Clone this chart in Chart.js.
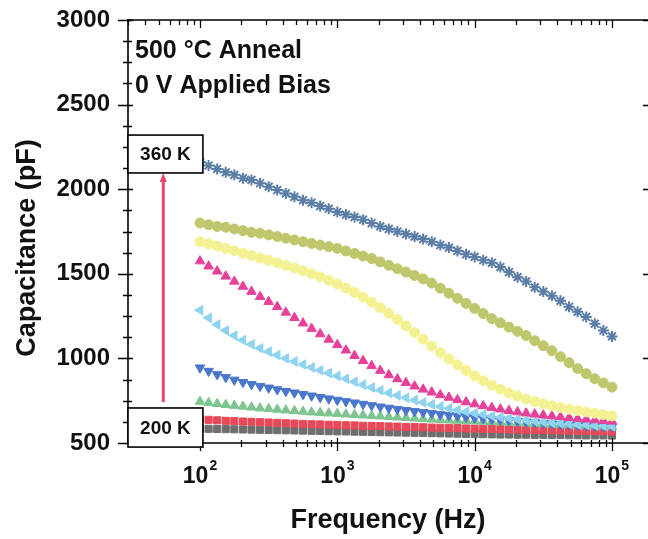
<!DOCTYPE html>
<html><head><meta charset="utf-8">
<script src="https://cdn.jsdelivr.net/npm/chart.js@4/dist/chart.umd.min.js"></script>
<style>html,body{margin:0;padding:0;background:#fff;}#wrap{width:648px;height:539px;position:relative;}</style>
</head><body><div id="wrap"><canvas id="c" width="648" height="539"></canvas></div>
<script>
// Measurement frequencies (Hz)
const frequencies = [100,115.5,133.4,154,177.8,205.4,237.1,273.8,316.2,365.2,421.7,487,562.3,649.4,749.9,866,
  1000,1155,1334,1540,1778,2054,2371,2738,3162,3652,4217,4870,5623,6494,7499,8660,
  10000,11548,13335,15399,17783,20535,23714,27384,31623,36517,42170,48697,56234,64938,74989,86596,100000];

// Capacitance (pF) per temperature
const c360 = [2160,2140,2120,2100,2085,2065,2055,2035,2015,1995,1975,1955,1935,1920,1900,1885,
  1865,1850,1835,1820,1800,1780,1765,1750,1735,1720,1705,1690,1670,1655,1635,1615,
  1600,1580,1565,1540,1510,1480,1455,1420,1395,1370,1340,1305,1275,1245,1205,1165,1130];
const c340 = [1800,1790,1780,1775,1765,1755,1745,1740,1730,1720,1710,1700,1690,1680,1670,1660,
  1650,1635,1620,1605,1590,1570,1550,1530,1510,1490,1470,1445,1415,1385,1355,1325,
  1295,1265,1235,1210,1185,1160,1135,1105,1075,1045,1010,975,940,910,880,855,830];
const c320 = [1690,1677,1664,1650,1636,1622,1608,1594,1580,1565,1550,1534,1518,1500,1482,1462,
  1440,1416,1390,1362,1332,1300,1266,1230,1192,1153,1113,1073,1034,997,962,928,
  897,868,842,818,796,777,760,745,732,720,710,700,692,684,676,668,660];
const c300 = [1575,1545,1515,1485,1455,1425,1395,1365,1335,1305,1272,1240,1208,1176,1144,1112,
  1080,1048,1016,986,956,928,902,878,856,836,817,800,784,769,755,742,
  730,719,709,700,691,683,676,670,664,659,654,649,644,640,636,632,628];
const c280 = [1285,1240,1200,1165,1135,1108,1083,1060,1040,1020,1000,982,964,947,930,913,
  896,880,862,845,828,812,796,781,767,753,740,728,716,705,695,685,
  676,668,660,653,646,640,634,629,624,620,616,612,609,606,603,601,599];
const c260 = [945,925,905,888,873,859,847,836,826,816,806,797,788,779,770,762,
  754,746,738,730,722,714,707,700,693,687,681,675,669,664,659,654,
  649,645,641,637,633,629,625,621,617,614,611,608,605,602,600,598,596];
const c240 = [745,738,732,726,721,716,711,706,702,698,694,690,686,682,679,676,
  673,670,667,664,661,658,655,652,649,646,643,640,637,635,633,631,
  629,627,625,623,621,619,617,615,613,611,609,607,605,603,601,599,597];
const c220 = [640,637,634,631,629,627,625,623,621,619,617,615,613,611,610,608,
  607,605,604,602,601,600,598,597,595,594,593,591,590,589,588,586,
  585,584,583,582,580,579,578,577,576,575,574,573,572,571,570,569,568];
const c200 = [585,584,583,582,581,580,579,578,577,576,575,574,573,572,571,570,
  569,568,567,566,565,564,563,562,561,560,559,558,557,556,555,554,
  553,552,551,550,550,549,549,548,548,547,547,546,546,545,545,545,544];

const yTicks = [500,1000,1500,2000,2500,3000];
const xDecades = [100,1000,10000,100000];
const xExponents = ['2','3','4','5'];

const FONT = '"Liberation Sans", Arial, Helvetica, sans-serif';

function pts(arr){ return frequencies.map((f,i)=>({x:f,y:arr[i]})); }

const series = [
  {label:'360 K', data:c360, color:'#5a7ea8', style:'star', r:5.5, bw:2},
  {label:'340 K', data:c340, color:'#c0c66c', style:'circle', r:5, bw:1},
  {label:'320 K', data:c320, color:'#f4f192', style:'circle', r:5, bw:1},
  {label:'300 K', data:c300, color:'#e6409a', style:'triangle', r:5.5, bw:1},
  {label:'280 K', data:c280, color:'#8fd3f0', style:'triangle', r:5.5, bw:1, rot:-90},
  {label:'260 K', data:c260, color:'#4a76cc', style:'triangle', r:5.5, bw:1, rot:180},
  {label:'240 K', data:c240, color:'#7ec592', style:'triangle', r:5.5, bw:1},
  {label:'220 K', data:c220, color:'#e84858', style:'rect', r:5, bw:1},
  {label:'200 K', data:c200, color:'#6e6e6e', style:'rect', r:5, bw:1}
];

const decor = {
  id:'decor',
  afterDatasetsDraw(chart){
    const {ctx, chartArea:a, scales:{x,y}} = chart;
    ctx.save();
    ctx.strokeStyle='#000'; ctx.lineWidth=1.6; ctx.lineCap='butt';
    ctx.beginPath();
    ctx.moveTo(a.left, a.top-1); ctx.lineTo(a.left, a.bottom+1);
    ctx.moveTo(a.left, a.bottom); ctx.lineTo(a.right, a.bottom);
    ctx.moveTo(a.left, a.top); ctx.lineTo(a.right, a.top);
    ctx.stroke();
    ctx.lineWidth=1.3;
    ctx.beginPath();
    for(let v=500; v<=3000; v+=125){
      const py = Math.round(y.getPixelForValue(v))+0.5;
      if(v%500===0){
        ctx.moveTo(a.left-10, py); ctx.lineTo(a.left+5, py);
        ctx.moveTo(a.right-5, py); ctx.lineTo(a.right, py);
      } else {
        ctx.moveTo(a.left-5, py); ctx.lineTo(a.left+4, py);
      }
    }
    for(const dec of [10,100,1000,10000,100000]){
      for(let m=1;m<=9;m++){
        const v=m*dec; if(v<x.min||v>x.max) continue;
        const px=Math.round(x.getPixelForValue(v))+0.5;
        if(m===1){
          ctx.moveTo(px,a.bottom-5); ctx.lineTo(px,a.bottom+8);
          ctx.moveTo(px,a.top); ctx.lineTo(px,a.top+8);
        } else {
          ctx.moveTo(px,a.bottom-3); ctx.lineTo(px,a.bottom+4);
          ctx.moveTo(px,a.top); ctx.lineTo(px,a.top+5);
        }
      }
    }
    ctx.stroke();

    // x tick labels with exponents
    ctx.fillStyle='#111';
    xDecades.forEach((v,i)=>{
      const px=x.getPixelForValue(v);
      ctx.font='bold 23px '+FONT;
      const w1=ctx.measureText('10').width;
      ctx.font='bold 14px '+FONT;
      const w2=ctx.measureText(xExponents[i]).width;
      const start=px-(w1+1+w2)/2;
      ctx.textAlign='left'; ctx.textBaseline='alphabetic';
      ctx.font='bold 23px '+FONT;
      ctx.fillText('10', start, a.bottom+40);
      ctx.font='bold 14px '+FONT;
      ctx.fillText(xExponents[i], start+w1+1, a.bottom+27);
    });

    // y axis title
    ctx.save();
    ctx.translate(28, 248); ctx.rotate(-Math.PI/2);
    ctx.font='bold 27px '+FONT; ctx.textAlign='center'; ctx.textBaseline='middle';
    ctx.fillText('Capacitance (pF)',0,0);
    ctx.restore();

    // annotation text
    ctx.font='bold 25px '+FONT; ctx.textAlign='left'; ctx.textBaseline='alphabetic';
    ctx.fillText('500 °C Anneal', a.left+7, a.top+38);
    ctx.fillText('0 V Applied Bias', a.left+7, a.top+73);

    // arrow from 200 K to 360 K
    const ax=x.getPixelForValue(54);
    const yb=y.getPixelForValue(742), yt=y.getPixelForValue(2096);
    ctx.strokeStyle='#e8446e'; ctx.fillStyle='#e8446e'; ctx.lineWidth=3;
    ctx.beginPath(); ctx.moveTo(ax,yb); ctx.lineTo(ax,yt+8); ctx.stroke();
    ctx.beginPath(); ctx.moveTo(ax,yt); ctx.lineTo(ax-3.5,yt+9); ctx.lineTo(ax+3.5,yt+9); ctx.closePath(); ctx.fill();

    // label boxes
    function box(y1,y2,txt){
      const l=a.left, r=x.getPixelForValue(105);
      const t=y.getPixelForValue(y1), b=y.getPixelForValue(y2);
      ctx.fillStyle='#fff'; ctx.fillRect(l,t,r-l,b-t);
      ctx.strokeStyle='#000'; ctx.lineWidth=1.6; ctx.strokeRect(l,t,r-l,b-t);
      ctx.fillStyle='#111'; ctx.font='bold 19px '+FONT; ctx.textAlign='center'; ctx.textBaseline='middle';
      ctx.fillText(txt,(l+r)/2,(t+b)/2+1);
    }
    box(2320,2096,'360 K');
    box(707,476,'200 K');
    ctx.restore();
  }
};

function zeroPad(s){ s.paddingTop=0; s.paddingBottom=0; s.paddingLeft=0; s.paddingRight=0; }

new Chart(document.getElementById('c'), {
  type:'scatter',
  data:{ datasets: series.map(s=>({
    label:s.label, data:pts(s.data), showLine:false,
    pointStyle:s.style, pointRadius:s.r, pointRotation:s.rot||0,
    backgroundColor:s.color, borderColor:s.color, borderWidth:s.bw,
    pointHoverRadius:s.r
  }))},
  options:{
    responsive:false, animation:false, devicePixelRatio:1,
    layout:{autoPadding:false, padding:{top:20,right:0,left:0,bottom:0}},
    plugins:{legend:{display:false}, tooltip:{enabled:false},
      title:{display:false}},
    scales:{
      x:{type:'logarithmic', min:29.9, max:183000,
        grid:{display:false}, border:{display:false},
        ticks:{display:false},
        title:{display:true, text:'Frequency (Hz)', color:'#111',
          font:{family:FONT, size:27, weight:'bold'}, padding:{top:0,bottom:2}},
        afterFit(s){ s.height=96; zeroPad(s); }
      },
      y:{type:'linear', min:500, max:3000,
        grid:{display:false, drawTicks:false}, border:{display:false},
        afterBuildTicks(s){ s.ticks = yTicks.map(v=>({value:v})); },
        ticks:{color:'#111', padding:18, font:{family:FONT, size:24, weight:'bold'},
          callback:(v)=>String(v)},
        afterFit(s){ s.width=128; zeroPad(s); }
      }
    }
  },
  plugins:[decor]
});
</script></body></html>
